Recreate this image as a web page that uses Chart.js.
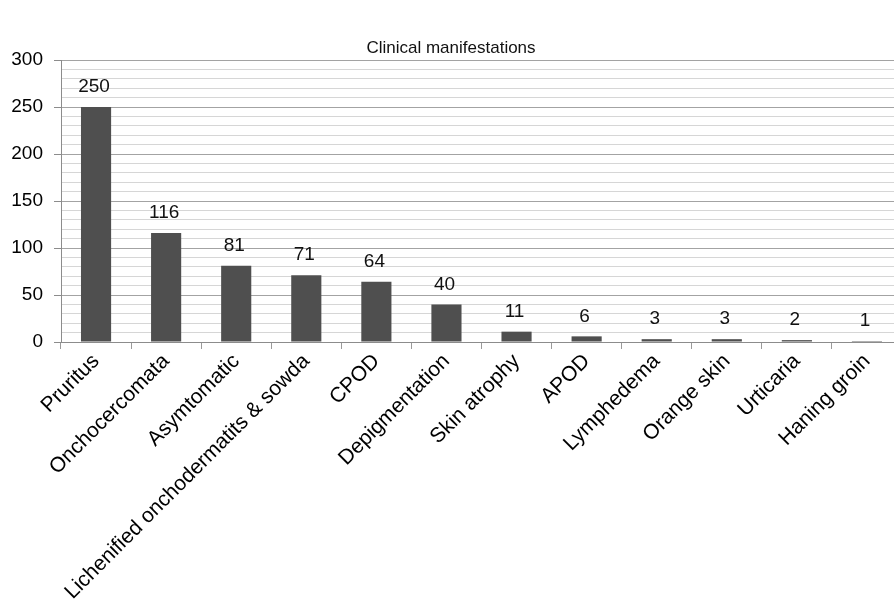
<!DOCTYPE html>
<html>
<head>
<meta charset="utf-8">
<script src="https://cdn.jsdelivr.net/npm/chart.js@4.4.1/dist/chart.umd.min.js"></script>
<style>
  html, body { margin: 0; padding: 0; background: #fff; overflow: hidden; }
  #wrap { width: 902px; height: 609px; position: relative; }
</style>
</head>
<body>
<div id="wrap"><canvas id="chart"></canvas></div>
<script>
const chartTitle = 'Clinical manifestations';
const categories = ['Pruritus', 'Onchocercomata', 'Asymtomatic', 'Lichenified onchodermatits & sowda',
  'CPOD', 'Depigmentation', 'Skin atrophy', 'APOD', 'Lymphedema', 'Orange skin', 'Urticaria', 'Haning groin'];
const counts = [250, 116, 81, 71, 64, 40, 11, 6, 3, 3, 2, 1];
const yTicks = [0, 50, 100, 150, 200, 250, 300];

const FONT = '"Liberation Sans", Arial, sans-serif';

// Title and value labels above each bar
const annotate = {
  id: 'annotate',
  afterDatasetsDraw(chart) {
    const ctx = chart.ctx;
    ctx.save();
    ctx.fillStyle = '#111';
    ctx.textAlign = 'center';
    ctx.textBaseline = 'middle';
    ctx.font = '19px ' + FONT;
    const meta = chart.getDatasetMeta(0);
    meta.data.forEach((bar, i) => {
      ctx.fillText(String(counts[i]), bar.x - 2, bar.y - 20);
    });
    ctx.font = '17px ' + FONT;
    ctx.fillText(chartTitle, chart.width / 2, 48);
    ctx.restore();
  }
};

new Chart(document.getElementById('chart'), {
  type: 'bar',
  data: {
    labels: categories,
    datasets: [{
      data: counts,
      backgroundColor: '#4f4f4f',
      borderWidth: 0,
      categoryPercentage: 1,
      barPercentage: 0.43
    }]
  },
  options: {
    responsive: true,
    maintainAspectRatio: false,
    animation: false,
    layout: { padding: { top: 60, right: 0, bottom: 0, left: 0 } },
    plugins: { legend: { display: false }, title: { display: false }, tooltip: { enabled: false } },
    scales: {
      x: {
        offset: true,
        afterFit(scale) { scale.height = 267; },
        grid: {
          offset: true,
          drawOnChartArea: false,
          drawTicks: true,
          tickLength: 7,
          tickColor: '#9a9a9a'
        },
        border: { display: true, color: '#8c8c8c', width: 1 },
        ticks: {
          minRotation: 45,
          maxRotation: 45,
          autoSkip: false,
          padding: 0,
          color: '#000',
          font: { family: FONT, size: 21 }
        }
      },
      y: {
        min: 0,
        max: 300,
        afterFit(scale) { scale.width = 61; },
        afterBuildTicks(scale) {
          const t = [];
          for (let v = 0; v <= 300; v += 10) t.push({ value: v });
          scale.ticks = t;
        },
        grid: {
          color: (c) => (c.tick && c.tick.value % 50 === 0) ? '#a3a3a3' : '#d6d6d6',
          tickColor: (c) => (c.tick && c.tick.value % 50 === 0) ? '#8c8c8c' : 'rgba(0,0,0,0)',
          tickLength: 7,
          lineWidth: 1
        },
        border: { display: true, color: '#8c8c8c', width: 1 },
        ticks: {
          autoSkip: false,
          padding: 11,
          color: '#000',
          font: { family: FONT, size: 19 },
          callback: (v) => yTicks.includes(v) ? String(v) : ''
        }
      }
    }
  },
  plugins: [annotate]
});
</script>
</body>
</html>
